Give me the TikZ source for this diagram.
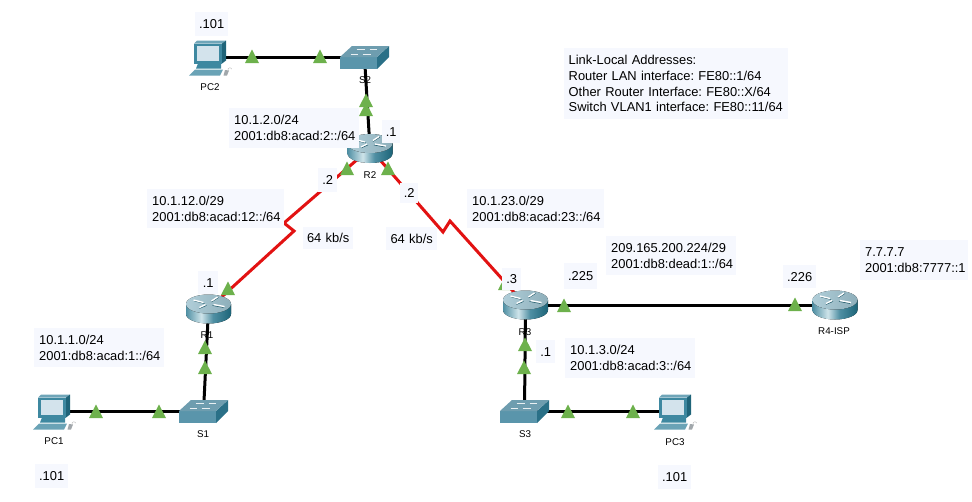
\documentclass[tikz,border=0pt]{standalone}
\usepackage{fontspec}
\setmainfont{Liberation Sans}
\definecolor{lab}{HTML}{F6F8FE}
\definecolor{tgreen}{HTML}{6DB14C}
\definecolor{redlink}{HTML}{E21212}
\definecolor{rdA}{HTML}{4F8FA3}
\definecolor{rdB}{HTML}{CFE4EA}
\definecolor{rdC}{HTML}{1C6478}
\definecolor{rtop}{HTML}{9DC2CF}
\definecolor{swTop}{HTML}{6E9DAF}
\definecolor{swFront}{HTML}{5A95AB}
\definecolor{swSide}{HTML}{2A7087}
\definecolor{pcFrame}{HTML}{3E88A0}
\definecolor{pcTop}{HTML}{6FA5B8}
\definecolor{pcSide}{HTML}{1F6479}
\definecolor{pcScreen}{HTML}{D3E3EC}
\definecolor{pcKey}{HTML}{6AA3B6}
\pgfdeclarehorizontalshading{routerbody}{100bp}{color(0bp)=(rdA); color(25bp)=(rdA); color(42bp)=(rdB); color(55bp)=(rdA); color(75bp)=(rdC); color(100bp)=(rdC)}
\tikzset{
  lbox/.style n args={2}{fill=lab,anchor=north west,inner xsep=5pt,inner ysep=0pt,text width=#1pt,minimum height=#2pt,align=left,font=\fontsize{12.9}{16}\selectfont\frenchspacing},
  sbox/.style n args={2}{fill=lab,anchor=north west,inner sep=0pt,text width=#1pt,minimum height=#2pt,align=center,font=\fontsize{12.9}{16}\selectfont\frenchspacing},
  notefont/.style={font=\fontsize{12.9}{15.7}\selectfont\frenchspacing,inner xsep=4.5pt},
  devlabel/.style={inner sep=0pt,font=\fontsize{9.8}{11}\selectfont},
  devnode/.style={inner sep=0pt,minimum size=1pt},
  blacklink/.style={line width=3pt,black},
  redserial/.style={line width=3pt,redlink,line join=miter},
  tri/.pic={\fill[tgreen] (-7,0) -- (7,0) -- (0,-13.5) -- cycle;},
  router/.pic={
    \fill[shading=routerbody] (-22.5,-5) -- (-22.5,5) arc[start angle=180,end angle=360,x radius=22.5pt,y radius=9.5pt] -- (22.5,-5) -- cycle;
    \fill[left color=rtop!80!white,right color=rtop!90!black] (0,-5) ellipse[x radius=22.5pt,y radius=9.5pt];
    \draw[rdC!80!black,line width=.5pt] (-14,-8) -- (-4,-5.5) (-9,-0.5) -- (-2,-3.5) (3,-7) -- (10,-11.5) (4,-3.5) -- (15,-1.5);
    \draw[white,line width=1.3pt] (-15,-9) -- (-5,-6.5) (-9,-1.5) -- (-3,-4.5) (3,-8) -- (9,-12) (5,-4.5) -- (16,-2.5);
  },
  switchicon/.pic={
    \fill[swFront] (-24.5,-0.5) -- (12.5,-0.5) -- (12.5,11.5) -- (-24.5,11.5) -- cycle;
    \fill[swSide] (12.5,-0.5) -- (24.5,-11.5) -- (24.5,-0.5) -- (12.5,11.5) -- cycle;
    \fill[swTop] (-12.5,-11.5) -- (24.5,-11.5) -- (12.5,-0.5) -- (-24.5,-0.5) -- cycle;
    \draw[white!85!swTop,line width=.8pt] (-8,-8.5) -- (0,-8.5) (5,-8.5) -- (12,-8.5) (-14,-3.5) -- (-7,-3.5) (-2,-3.5) -- (6,-3.5);
  },
  pcicon/.pic={
    \fill[pcFrame] (-16,-14) -- (12,-14) -- (12,6) -- (-16,6) -- cycle;
    \fill[pcTop] (-16,-14) -- (-13,-17) -- (16,-17) -- (12,-14) -- cycle;
    \fill[pcSide] (12,-14) -- (16,-17) -- (16,3) -- (12,6) -- cycle;
    \fill[pcScreen] (-13,-12) -- (9,-12) -- (9,3) -- (-13,3) -- cycle;
    \fill[pcFrame] (-12,6) -- (11,6) -- (11,11) -- (-14,11) -- cycle;
    \fill[pcKey] (-21,18) -- (-15,12) -- (13,12) -- (10,18) -- cycle;
    \fill[gray!60!pcScreen] (15,12.5) -- (19,13) -- (17,18) -- (13.5,18) -- cycle;
    \draw[gray!50,line width=.5pt] (18,13) arc[start angle=200,end angle=20,radius=2pt];
  },
}
\begin{document}
\begin{tikzpicture}[x=1pt,y=-1pt]
\useasboundingbox (0,0) rectangle (972,501);
% device anchors
\node[devnode] (PC2) at (210,57.5) {};
\node[devnode] (S2) at (364.5,57.5) {};
\node[devnode] (R2) at (370,148.5) {};
\node[devnode] (R1) at (208.5,309) {};
\node[devnode] (S1) at (203.5,411.5) {};
\node[devnode] (PC1) at (54,411.5) {};
\node[devnode] (R3) at (525.5,305) {};
\node[devnode] (S3) at (524.5,411.5) {};
\node[devnode] (PC3) at (675,411.5) {};
\node[devnode] (R4) at (835,305) {};
\coordinate (zl1) at (284,223);
\coordinate (zl2) at (294,231);
\coordinate (zr1) at (443,232);
\coordinate (zr2) at (450,221);
% connectors
\draw[blacklink] (PC2.center) -- (S2.center);
\draw[blacklink] (S2.center) -- (R2.center);
\draw[blacklink] (R1.center) -- (S1.center);
\draw[blacklink] (S1.center) -- (PC1.center);
\draw[blacklink] (R3.center) -- (S3.center);
\draw[blacklink] (S3.center) -- (PC3.center);
\draw[blacklink] (R3.center) -- (R4.center);
\draw[redserial] (R2.center) -- (zl1) -- (zl2) -- (R1.center);
\draw[redserial] (R2.center) -- (zr1) -- (zr2) -- (R3.center);
% icons
\pic at (PC2) {pcicon};
\pic at (PC1) {pcicon};
\pic at (PC3) {pcicon};
\pic at (S2) {switchicon};
\pic at (S1) {switchicon};
\pic at (S3) {switchicon};
\pic at (R1) {router};
\pic at (R2) {router};
\pic at (R3) {router};
\pic at (R4) {router};
% link lights
\foreach \p in {(252,63),(320,63),(366,107),(366,116),(347,175),(388,175),(228,295),(205,354),(205,374),(96,418),(159,418),(505,290),(564,312),(795,311),(525,351),(524,374),(568,418),(633,418)} {\pic at \p {tri};}
% device labels
\node[devlabel] (lPC2) at (210,87) {PC2};
\node[devlabel] (lS2) at (365,80) {S2};
\node[devlabel] (lR2) at (370,175) {R2};
\node[devlabel] (lR1) at (207,335) {R1};
\node[devlabel] (lS1) at (203,434) {S1};
\node[devlabel] (lPC1) at (54,441) {PC1};
\node[devlabel] (lR3) at (525,332) {R3};
\node[devlabel] (lS3) at (525,434) {S3};
\node[devlabel] (lPC3) at (675,442) {PC3};
\node[devlabel] (lR4) at (834,331) {R4-ISP};
% address labels
\node[sbox={33}{24}] (a1) at (195,12) {.101};
\node[sbox={33}{24}] (a2) at (35,464) {.101};
\node[sbox={33}{24}] (a3) at (658,465) {.101};
\node[sbox={18}{23}] (a4) at (382,120) {.1};
\node[sbox={19}{24}] (a5) at (318,168) {.2};
\node[sbox={18}{20}] (a6) at (400,183) {.2};
\node[sbox={20}{23}] (a7) at (198,271) {.1};
\node[sbox={19}{22}] (a8) at (502,268) {.3};
\node[sbox={33}{26}] (a9) at (564,263) {.225};
\node[sbox={33}{23}] (a10) at (783,265) {.226};
\node[sbox={19}{23}] (a11) at (536,340) {.1};
\node[sbox={50}{22}] (a12) at (303,227) {64 kb/s};
\node[sbox={51}{23}] (a13) at (386,227) {64 kb/s};
\node[lbox={120}{40}] (n1) at (229,108) {10.1.2.0/24\\2001:db8:acad:2::/64};
\node[lbox={127}{39}] (n2) at (147,189) {10.1.12.0/29\\2001:db8:acad:12::/64};
\node[lbox={127}{39}] (n3) at (467,189) {10.1.23.0/29\\2001:db8:acad:23::/64};
\node[lbox={120}{39}] (n4) at (34,328) {10.1.1.0/24\\2001:db8:acad:1::/64};
\node[lbox={120}{40}] (n5) at (565,338) {10.1.3.0/24\\2001:db8:acad:3::/64};
\node[lbox={120}{39}] (n6) at (606,236) {209.165.200.224/29\\2001:db8:dead:1::/64};
\node[lbox={98}{40}] (n7) at (860,240) {7.7.7.7\\2001:db8:7777::1};
\node[lbox={215}{71},notefont] (n8) at (564,48) {Link-Local Addresses:\\Router LAN interface: FE80::1/64\\Other Router Interface: FE80::X/64\\Switch VLAN1 interface: FE80::11/64};
\end{tikzpicture}
\end{document}
